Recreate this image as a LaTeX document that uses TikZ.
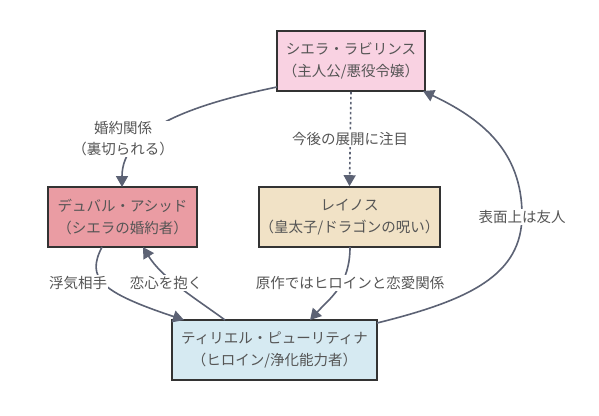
\documentclass[tikz,border=0pt]{standalone}
\usepackage{fontspec}
\setmainfont{Noto Sans CJK JP}
\usetikzlibrary{arrows.meta}
\definecolor{edgec}{HTML}{5C6274}
\definecolor{txtc}{HTML}{555555}
\definecolor{pinkA}{HTML}{F9D2E2}
\definecolor{roseA}{HTML}{EA9CA3}
\definecolor{beigeA}{HTML}{F1E2C6}
\definecolor{blueA}{HTML}{D6EAF2}
\tikzset{
  box/.style={draw=black!80, line width=1.6pt, minimum width=#1, minimum height=60pt, align=center, text=txtc, font=\fontsize{14.5}{22}\selectfont, inner sep=0pt},
  rel/.style={draw=edgec, line width=1.6pt, -{Triangle[length=11pt,width=12pt]}},
  lbl/.style={fill=white, text=txtc, font=\fontsize{14.5}{21}\selectfont, align=center, inner sep=1pt}
}
\begin{document}
\begin{tikzpicture}[x=1pt,y=-1pt]
\useasboundingbox[fill=white] (0,0) rectangle (599,415);
\node[box=148pt, fill=pinkA] (S) at (351,61) {シエラ・ラビリンス\\（主人公/悪役令嬢）};
\node[box=149pt, fill=roseA] (D) at (122.5,217) {デュバル・アシッド\\（シエラの婚約者）};
\node[box=181pt, fill=beigeA] (R) at (349.5,217) {レイノス\\（皇太子/ドラゴンの呪い）};
\node[box=205pt, fill=blueA] (T) at (274.5,350) {ティリエル・ピューリティナ\\（ヒロイン/浄化能力者）};
\coordinate (Sl) at (277,87);
\coordinate (Dt) at (122,187);
\draw[rel] (Sl) .. controls (190,105) and (122,130) .. (Dt);
\node[lbl] at (123,139) {婚約関係\\（裏切られる）};
\draw[rel, dash pattern=on 2.5pt off 2.5pt] (S.south) -- (R.north);
\node[lbl] at (350,139) {今後の展開に注目};
\coordinate (Tr) at (377,323);
\coordinate (Sb) at (423,91);
\draw[rel] (Tr) .. controls (470,300) and (522,275) .. (522,215) .. controls (522,150) and (480,118) .. (Sb);
\node[lbl] at (522,217) {表面上は友人};
\coordinate (Rb) at (350,247);
\coordinate (Tt1) at (310,320);
\draw[rel] (Rb) .. controls (350,285) and (330,298) .. (Tt1);
\node[lbl] at (350,283) {原作ではヒロインと恋愛関係};
\coordinate (Db1) at (102,247);
\coordinate (Tt2) at (184,320);
\draw[rel] (Db1) .. controls (86,278) and (100,292) .. (Tt2);
\node[lbl] at (78,283) {浮気相手};
\coordinate (Tt3) at (225,320);
\coordinate (Db2) at (143,247);
\draw[rel] (Tt3) .. controls (195,298) and (162,278) .. (Db2);
\node[lbl] at (166,283) {恋心を抱く};
\end{tikzpicture}
\end{document}
